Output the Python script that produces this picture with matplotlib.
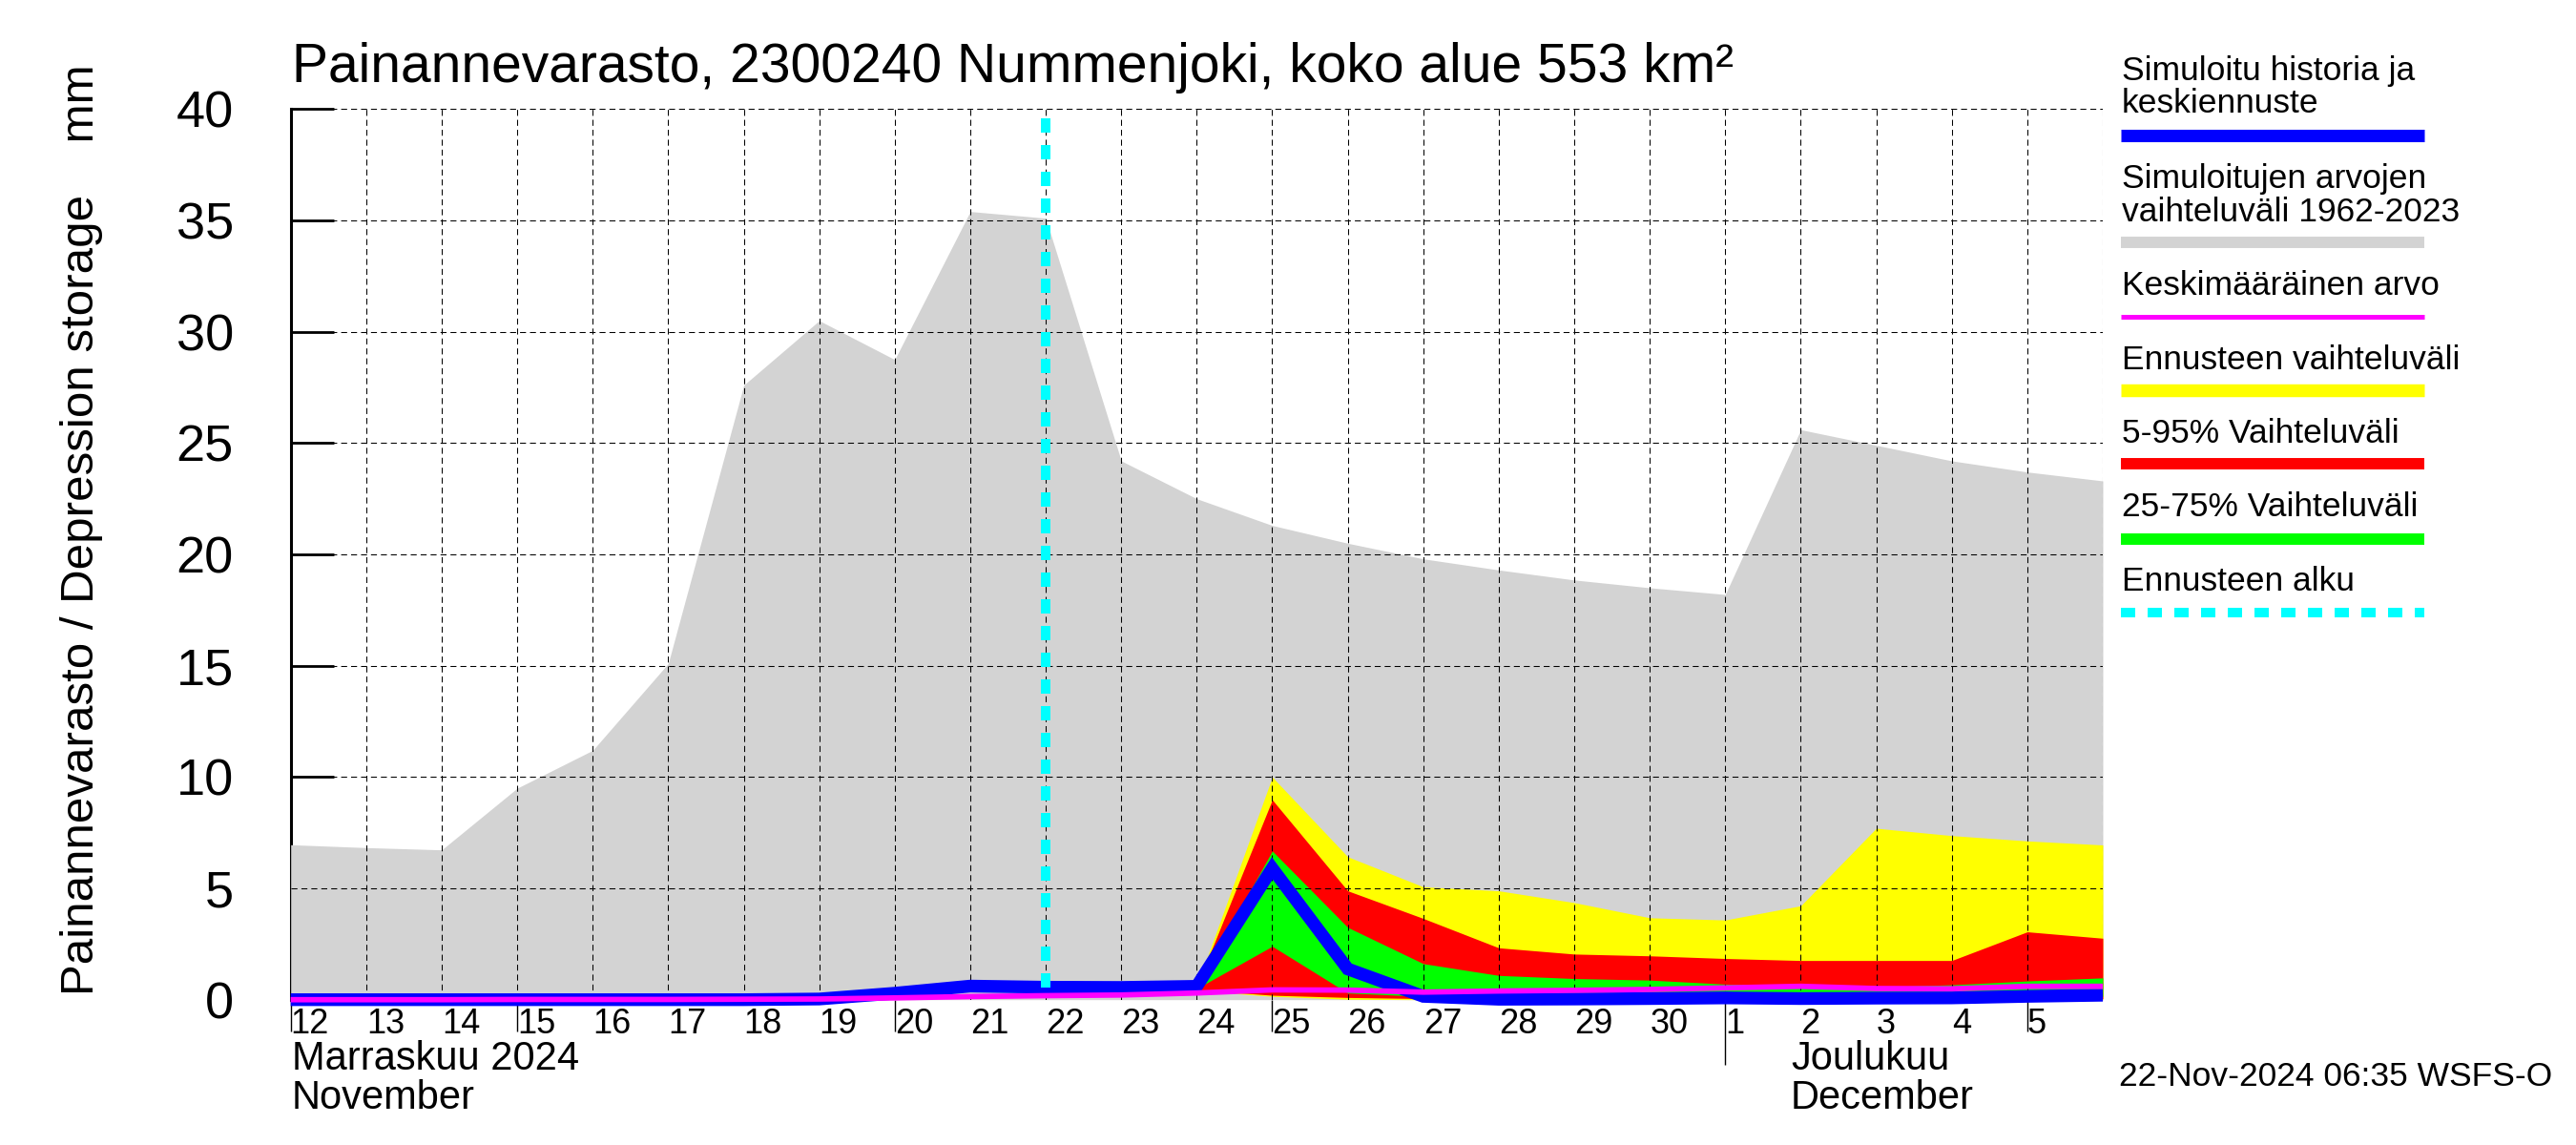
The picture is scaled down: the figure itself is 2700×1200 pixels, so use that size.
import matplotlib
matplotlib.use("Agg")
import matplotlib.pyplot as plt
import matplotlib.dates as mdates
from matplotlib.lines import Line2D
import pandas as pd

# ---------------- data ----------------
days = pd.date_range("2024-11-12", "2024-12-06", freq="D")
hist_max = [6.96, 6.83, 6.73, 9.5, 11.2, 15.1, 27.6, 30.5, 28.75, 35.4, 35.1, 24.2,
            22.5, 21.3, 20.5, 19.8, 19.3, 18.85, 18.5, 18.2, 25.6, 24.9, 24.2, 23.7, 23.3]
hist_min = [0.0] * 25
mean_vals = [0.0, 0.0, 0.0, 0.01, 0.01, 0.01, 0.02, 0.03, 0.08, 0.14, 0.18, 0.21,
             0.3, 0.44, 0.43, 0.34, 0.39, 0.42, 0.46, 0.53, 0.6, 0.5, 0.49, 0.6, 0.6]
median_vals = [0.0, 0.0, 0.0, 0.0, 0.0, 0.0, 0.0, 0.03, 0.29, 0.61, 0.56, 0.55,
               0.6, 5.9, 1.38, 0.15, 0.02, 0.03, 0.05, 0.08, 0.05, 0.07, 0.08, 0.15, 0.2]

fc_days = pd.date_range("2024-11-22", "2024-12-06", freq="D")
fc_max = [0.55, 0.55, 0.6, 10.0, 6.42, 5.07, 4.89, 4.36, 3.68, 3.58, 4.22, 7.7, 7.37, 7.13, 6.95]
fc_p95 = [0.55, 0.55, 0.6, 8.98, 4.89, 3.65, 2.33, 2.05, 1.97, 1.85, 1.76, 1.76, 1.76, 3.05, 2.76]
fc_p75 = [0.55, 0.55, 0.6, 6.68, 3.25, 1.62, 1.09, 0.95, 0.88, 0.70, 0.60, 0.57, 0.67, 0.84, 0.98]
fc_p25 = [0.55, 0.55, 0.5, 2.4, 0.3, 0.15, 0.12, 0.12, 0.12, 0.12, 0.1, 0.1, 0.1, 0.12, 0.15]
fc_p05 = [0.55, 0.55, 0.45, 0.2, 0.1, 0.05, 0.05, 0.05, 0.05, 0.05, 0.05, 0.05, 0.05, 0.05, 0.05]
fc_min = [0.55, 0.55, 0.4, 0.15, 0.02, 0.0, 0.0, 0.0, 0.0, 0.0, 0.0, 0.0, 0.0, 0.0, 0.0]

forecast_start = pd.Timestamp("2024-11-22")
forecast_line_top = 39.6
y_ticks = [0, 5, 10, 15, 20, 25, 30, 35, 40]
day_labels = [str(d.day) for d in days[:-1]]
small_tick_days = pd.to_datetime(["2024-11-12", "2024-11-15", "2024-11-20", "2024-11-25", "2024-12-05"])
month_tick_days = pd.to_datetime(["2024-12-01"])

title = "Painannevarasto, 2300240 Nummenjoki, koko alue 553 km\u00b2"
ylabel = "Painannevarasto / Depression storage    mm"
legend_entries = [
    (["Simuloitu historia ja", "keskiennuste"], "#0000ff", 9.4, "-"),
    (["Simuloitujen arvojen", "vaihteluv\u00e4li 1962-2023"], "#d3d3d3", 8.6, "-"),
    (["Keskim\u00e4\u00e4r\u00e4inen arvo"], "#ff00ff", 3.6, "-"),
    (["Ennusteen vaihteluv\u00e4li"], "#ffff00", 9.7, "-"),
    (["5-95% Vaihteluv\u00e4li"], "#ff0000", 8.6, "-"),
    (["25-75% Vaihteluv\u00e4li"], "#00ff00", 8.6, "-"),
    (["Ennusteen alku"], "#00ffff", 7.2, (0, (1.5, 1.3))),
]
month_labels = [("Marraskuu 2024", "November"), ("Joulukuu", "December")]
stamp = "22-Nov-2024 06:35 WSFS-O"

# ---------------- figure ----------------
FONT = ["Liberation Sans", "DejaVu Sans"]
plt.rcParams["font.family"] = FONT
W, H = 2700, 1200
fig = plt.figure(figsize=(27, 12), dpi=100)
ax = fig.add_axes([304.7 / W, 1 - 1047.7 / H, (2204 - 304.7) / W, (1047.7 - 114.3) / H])

x = mdates.date2num(days)
xf = mdates.date2num(fc_days)

ax.fill_between(x, hist_min, hist_max, color="#d3d3d3", lw=0, zorder=1)
ax.fill_between(xf, fc_min, fc_max, color="#ffff00", lw=0, zorder=1.1)
ax.fill_between(xf, fc_p05, fc_p95, color="#ff0000", lw=0, zorder=1.2)
ax.fill_between(xf, fc_p25, fc_p75, color="#00ff00", lw=0, zorder=1.3)

# grid
for yv in y_ticks[1:]:
    ax.axhline(yv, color="black", lw=0.75, ls=(0, (6, 4)), zorder=2)
for d in x[1:]:
    ax.axvline(d, color="black", lw=0.75, ls=(0, (6, 4)), zorder=2)

ax.plot(x, median_vals, color="#0000ff", lw=9.6, zorder=3, clip_on=False,
        solid_joinstyle="miter", solid_capstyle="butt")
ax.plot(x, mean_vals, color="#ff00ff", lw=4.1, zorder=4, clip_on=False,
        solid_capstyle="butt")
fs = mdates.date2num(forecast_start)
ax.plot([fs, fs], [forecast_line_top, 0], color="#00ffff", lw=7.2,
        ls=(0, (1.5, 1.3)), zorder=5, dash_capstyle="butt")

ax.set_xlim(x[0], x[-1])
ax.set_ylim(0, 40)
ax.set_axisbelow(True)
for s in ["top", "right", "bottom"]:
    ax.spines[s].set_visible(False)
ax.spines["left"].set_linewidth(2.2)
ax.spines["left"].set_zorder(0.5)

ax.set_yticks(y_ticks)
ax.set_yticklabels([str(v) for v in y_ticks])
ax.tick_params(axis="y", direction="in", length=32.4, width=2.0, pad=43, labelsize=39)

ax.set_xticks(x[:-1])
ax.set_xticklabels(day_labels, ha="left")
ax.tick_params(axis="x", which="major", length=0, pad=6, labelsize=26)
ax.xaxis.remove_overlapping_locs = False
ax.set_xticks(mdates.date2num(small_tick_days), minor=True)
ax.tick_params(axis="x", which="minor", direction="out", length=24, width=1.0)

sec = ax.secondary_xaxis("bottom")
sec.set_xticks(mdates.date2num(month_tick_days))
sec.tick_params(direction="out", length=49, width=1.0, labelbottom=False)
sec.spines["bottom"].set_visible(False)

# title / labels
fig.text(306 / W, 1 - 86 / H, title, fontsize=41, va="baseline", ha="left")
fig.text(86 / W, 1 - 555 / H, ylabel, rotation=90, fontsize=35.5, ha="center", va="center")

# month labels
month_x = [306 / W, 1877 / W]
for (l1, l2), mx in zip(month_labels, month_x):
    fig.text(mx, 1 - 1121 / H, l1, fontsize=30, va="baseline", ha="left")
    fig.text(mx, 1 - 1162 / H, l2, fontsize=30, va="baseline", ha="left")

fig.text(2221 / W, 1 - 1138 / H, stamp, fontsize=25.5, va="baseline", ha="left")

# legend (manual layout)
leg_baselines = [[84, 118], [197, 231.6], [309], [387], [464], [541], [619]]
leg_bar_y = [141.5, 254, 332, 409, 486, 564.6, 642]
for (lines, col, lw, ls), bls, by in zip(legend_entries, leg_baselines, leg_bar_y):
    for t, b in zip(lines, bls):
        fig.text(2224 / W, 1 - b / H, t, fontsize=25.5, va="baseline", ha="left")
    fig.add_artist(Line2D([2223 / W, 2541 / W], [1 - by / H, 1 - by / H],
                          transform=fig.transFigure, color=col, lw=lw, ls=ls,
                          solid_capstyle="butt", dash_capstyle="butt"))

fig.savefig("out.png", dpi=100)
